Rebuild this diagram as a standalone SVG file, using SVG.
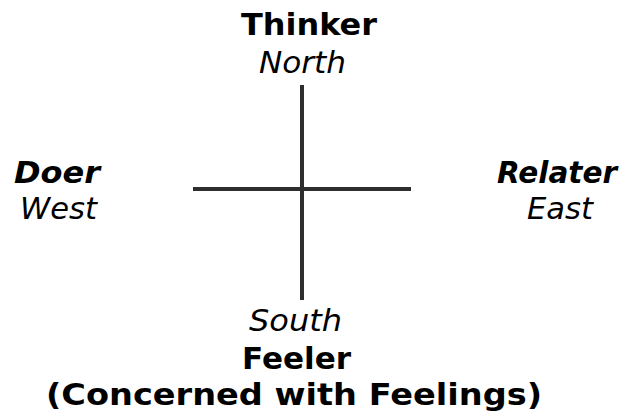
<svg xmlns="http://www.w3.org/2000/svg" width="629" height="419" viewBox="0 0 629 419">
<style>
text{font-family:"DejaVu Sans",Verdana,sans-serif;font-size:31px;fill:#000;text-anchor:middle}
.b{font-weight:bold}
.i{font-style:italic}
.ax{stroke:#2e2e2e;stroke-width:4;fill:none}
</style>
<rect width="629" height="419" fill="#fff"/>
<g id="connectors">
<line class="ax" x1="302" y1="85" x2="302" y2="300"/>
<line class="ax" x1="193" y1="189" x2="411" y2="189"/>
</g>
<g id="north"><text class="b" x="309" y="35" textLength="136" lengthAdjust="spacingAndGlyphs">Thinker</text><text class="i" x="302.5" y="73" textLength="87" lengthAdjust="spacingAndGlyphs">North</text></g>
<g id="west"><text class="b i" x="57" y="183" textLength="86" lengthAdjust="spacingAndGlyphs">Doer</text><text class="i" x="58.5" y="219" textLength="77" lengthAdjust="spacingAndGlyphs">West</text></g>
<g id="east"><text class="b i" x="557" y="183" textLength="120" lengthAdjust="spacingAndGlyphs">Relater</text><text class="i" x="560" y="219" textLength="66" lengthAdjust="spacingAndGlyphs">East</text></g>
<g id="south"><text class="i" x="295.5" y="331" textLength="93" lengthAdjust="spacingAndGlyphs">South</text><text class="b" x="296.5" y="369" textLength="109" lengthAdjust="spacingAndGlyphs">Feeler</text><text class="b" x="294" y="405" textLength="496" lengthAdjust="spacingAndGlyphs">(Concerned with Feelings)</text></g>
</svg>
